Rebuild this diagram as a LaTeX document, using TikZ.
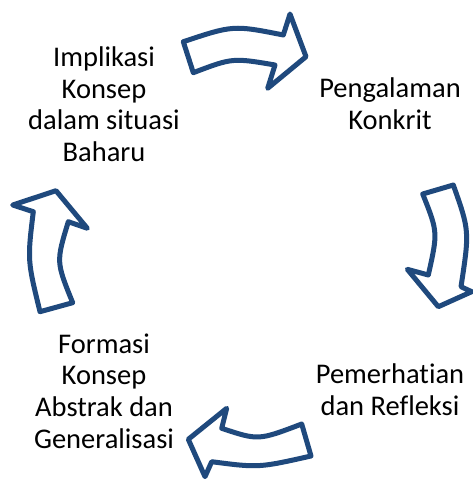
\documentclass[tikz,border=0pt]{standalone}
\usepackage{fontspec}
\newfontfamily\lblfont{Carlito}[Ligatures=NoCommon]
\definecolor{cyclebl}{RGB}{31,73,125}
\begin{document}
\begin{tikzpicture}[x=1bp,y=-1bp,
  cyclearrow/.style={draw=cyclebl, line width=5bp, line join=round, fill=white},
  stage/.style={align=center, inner sep=0pt, anchor=base,
    font=\lblfont\fontsize{28.5bp}{31.7bp}\selectfont}]
\useasboundingbox (0,0) rectangle (473,479);

% stage labels (placed by the baseline of their last line)
\node[stage] (impl) at (104,161.7) {Implikasi\\Konsep\\dalam situasi\\Baharu};
\node[stage] (peng) at (390,129.3) {Pengalaman\\Konkrit};
\node[stage] (pem)  at (390,415) {Pemerhatian\\dan Refleksi};
\node[stage] (form) at (104,448.3) {Formasi\\Konsep\\Abstrak dan\\Generalisasi};

% top arrow (towards the right)
\draw[cyclearrow] (183.3,41.7) .. controls (233.3,25.1) .. (283.3,35)
  -- (290,14) -- (306,56.7) -- (267.7,88.3) -- (275,65)
  .. controls (232.5,57.8) .. (193.3,72.7) -- cycle;

% right arrow (downwards)
\draw[cyclearrow] (453.3,185) .. controls (469.5,230.8) .. (461,286.7)
  -- (471.7,291.7) -- (438.3,306.7) -- (407.3,269.3) -- (428.3,275)
  .. controls (437.9,232.1) .. (422.7,194) -- cycle;

% bottom arrow (towards the left)
\draw[cyclearrow] (301.7,424) .. controls (258.3,440.5) .. (221.7,428.3)
  -- (226.7,408.3) -- (188.3,439.3) -- (205,476.7) -- (211.7,461.7)
  .. controls (258.7,467.8) .. (311,456) -- cycle;

% left arrow (upwards)
\draw[cyclearrow] (40,311.7) .. controls (27.4,260.3) .. (33.3,211.7)
  -- (12.7,205) -- (56,190.7) -- (87.3,228.3) -- (68.3,221.7)
  .. controls (56.1,261.8) .. (72.7,302.7) -- cycle;
\end{tikzpicture}
\end{document}
